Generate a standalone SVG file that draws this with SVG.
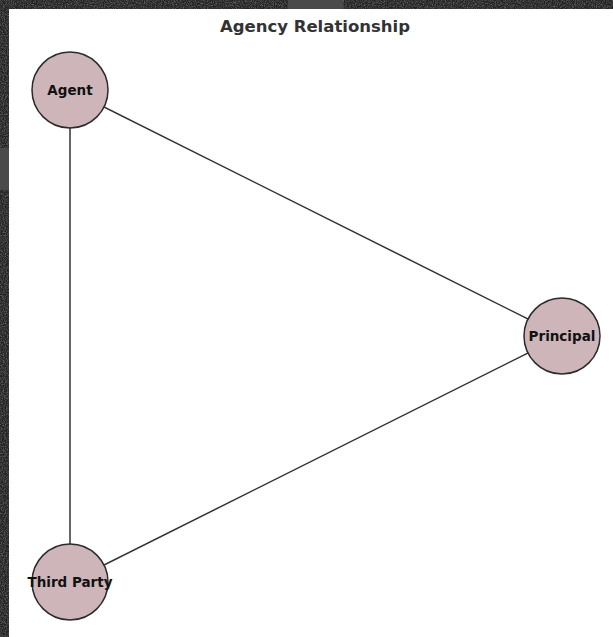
<svg xmlns="http://www.w3.org/2000/svg" width="613" height="637" viewBox="0 0 613 637">
  <defs>
    <filter id="grain" x="0" y="0" width="100%" height="100%">
      <feTurbulence type="fractalNoise" baseFrequency="0.9" numOctaves="2" seed="4" result="n"/>
      <feColorMatrix in="n" type="matrix" values="0 0 0 0 0.32  0 0 0 0 0.32  0 0 0 0 0.32  0 0 0 -1.2 0.75" result="g"/>
      <feComposite in="g" in2="SourceGraphic" operator="in"/>
    </filter>
    <style>
      .edge { stroke: #333333; stroke-width: 1.5; fill: none; }
      .node circle { fill: #cdb5ba; stroke: #2b2b2b; stroke-width: 1.5; }
      .node text { font-family: "DejaVu Sans", "Liberation Sans", sans-serif; font-weight: bold; font-size: 13.5px; fill: #111111; text-anchor: middle; }
      .title { font-family: "DejaVu Sans", "Liberation Sans", sans-serif; font-weight: bold; font-size: 16.5px; fill: #333333; text-anchor: middle; }
    </style>
  </defs>

  <!-- dark backdrop with grain -->
  <rect x="0" y="0" width="613" height="637" fill="#222222"/>
  <rect x="0" y="0" width="613" height="637" fill="#222222" filter="url(#grain)"/>
  <rect x="0" y="148" width="9" height="42" fill="#4a4a4a"/>
  <rect x="288" y="0" width="55" height="9" fill="#4a4a4a"/>

  <!-- plotting panel -->
  <rect x="9" y="9" width="604" height="628" fill="#ffffff"/>

  <text class="title" x="315" y="32">Agency Relationship</text>

  <g id="connectors">
    <line class="edge" x1="70" y1="90" x2="562" y2="336"/>
    <line class="edge" x1="562" y1="336" x2="70" y2="582"/>
    <line class="edge" x1="70" y1="90" x2="70" y2="582"/>
  </g>

  <g id="agent" class="node">
    <circle cx="70" cy="90" r="38"/>
    <text x="70" y="95">Agent</text>
  </g>
  <g id="principal" class="node">
    <circle cx="562" cy="336" r="38"/>
    <text x="562" y="341">Principal</text>
  </g>
  <g id="third-party" class="node">
    <circle cx="70" cy="582" r="38"/>
    <text x="70" y="587">Third Party</text>
  </g>
</svg>
